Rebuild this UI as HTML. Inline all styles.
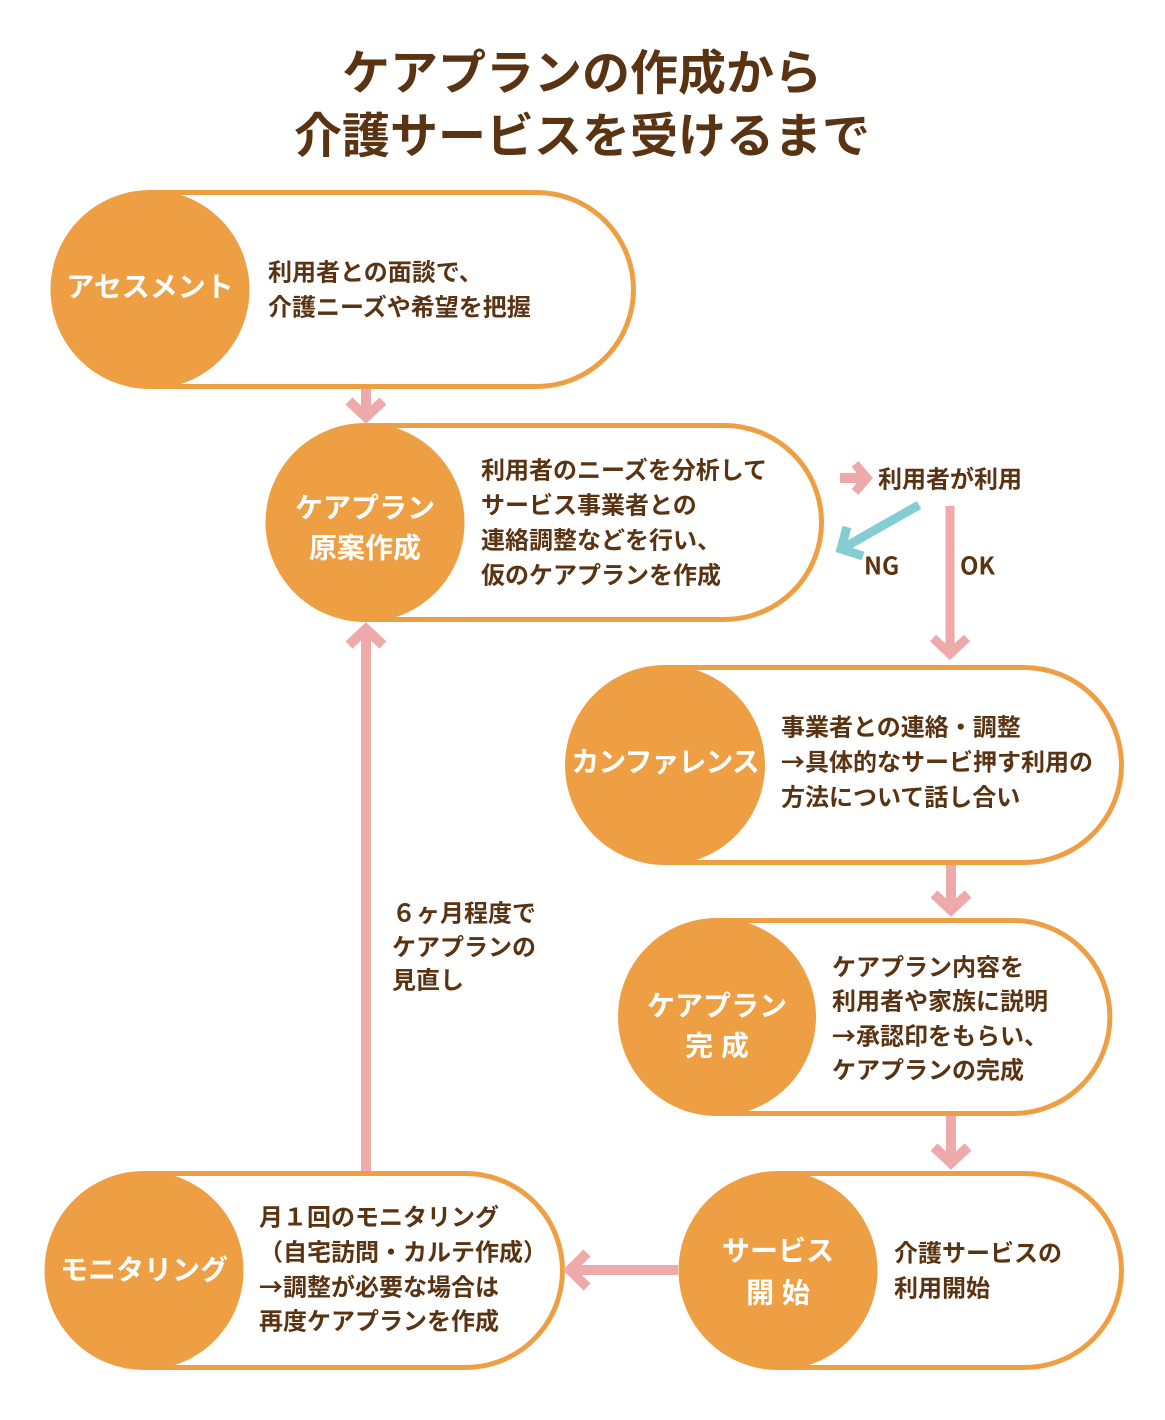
<!DOCTYPE html>
<html lang="ja">
<head>
<meta charset="utf-8">
<style>
  html, body { margin: 0; padding: 0; background: #ffffff; }
  body { width: 1165px; height: 1420px; overflow: hidden; }
  svg { display: block; }
  text { font-family: "Liberation Sans", "Noto Sans CJK JP", sans-serif; font-weight: bold; }
  .t { fill: #5a3312; font-size: 48px; }
  .d { fill: #5a3312; font-size: 24px; font-family: "Noto Sans CJK JP", "Liberation Sans", sans-serif; }
  .c { fill: #ffffff; font-size: 28px; }
  .s { fill: #5a3312; font-size: 24px; font-family: "Noto Sans CJK JP", "Liberation Sans", sans-serif; }
</style>
</head>
<body>
<svg width="1165" height="1420" viewBox="0 0 1165 1420" xmlns="http://www.w3.org/2000/svg">
  <rect x="0" y="0" width="1165" height="1420" fill="#ffffff"/>

  <!-- Title -->
  <text class="t" x="582" y="74" text-anchor="middle" dominant-baseline="central">ケアプランの作成から</text>
  <text class="t" x="582" y="137" text-anchor="middle" dominant-baseline="central">介護サービスを受けるまで</text>

  <!-- Pill outlines -->
  <g fill="#ffffff" stroke="#ef9f43" stroke-width="5">
    <path d="M150,192.5 H536.5 A97 97 0 0 1 536.5,386.5 H150 Z"/>
    <path d="M365,425.5 H724.5 A97 97 0 0 1 724.5,619.5 H365 Z"/>
    <path d="M665,667.5 H1024 A97.5 97.5 0 0 1 1024,862.5 H665 Z"/>
    <path d="M717,920.5 H1013.5 A96.5 96.5 0 0 1 1013.5,1113.5 H717 Z"/>
    <path d="M778,1173.5 H1024.5 A97 97 0 0 1 1024.5,1367.5 H778 Z"/>
    <path d="M144,1173.5 H465.5 A97 97 0 0 1 465.5,1367.5 H144 Z"/>
  </g>

  <!-- Circles -->
  <g fill="#ef9f43">
    <circle cx="150" cy="289.5" r="99.5"/>
    <circle cx="365" cy="522.5" r="99.5"/>
    <circle cx="665" cy="765" r="100"/>
    <circle cx="717" cy="1017" r="99"/>
    <circle cx="778" cy="1270.5" r="99.5"/>
    <circle cx="144" cy="1270.5" r="99.5"/>
  </g>

  <!-- Circle labels -->
  <text class="c" x="150" y="287" text-anchor="middle" dominant-baseline="central">アセスメント</text>
  <text class="c" x="365" y="508" text-anchor="middle" dominant-baseline="central">ケアプラン</text>
  <text class="c" x="365" y="548" text-anchor="middle" dominant-baseline="central">原案作成</text>
  <text class="c" x="665" y="762" text-anchor="middle" dominant-baseline="central" letter-spacing="-1">カンファレンス</text>
  <text class="c" x="717" y="1006" text-anchor="middle" dominant-baseline="central">ケアプラン</text>
  <text class="c" x="717" y="1046" text-anchor="middle" dominant-baseline="central">完 成</text>
  <text class="c" x="778" y="1251" text-anchor="middle" dominant-baseline="central">サービス</text>
  <text class="c" x="778" y="1293" text-anchor="middle" dominant-baseline="central">開 始</text>
  <text class="c" x="144" y="1270" text-anchor="middle" dominant-baseline="central">モニタリング</text>

  <!-- Descriptions -->
  <text class="d" x="268" y="270" dominant-baseline="central">利用者との面談で、</text>
  <text class="d" x="268" y="305" dominant-baseline="central">介護ニーズや希望を把握</text>

  <text class="d" x="481" y="468" dominant-baseline="central">利用者のニーズを分析して</text>
  <text class="d" x="481" y="503" dominant-baseline="central">サービス事業者との</text>
  <text class="d" x="481" y="538" dominant-baseline="central">連絡調整などを行い、</text>
  <text class="d" x="481" y="573" dominant-baseline="central">仮のケアプランを作成</text>

  <text class="d" x="781" y="725" dominant-baseline="central">事業者との連絡・調整</text>
  <text class="d" x="781" y="760" dominant-baseline="central">→具体的なサービ押す利用の</text>
  <text class="d" x="781" y="795" dominant-baseline="central">方法について話し合い</text>

  <text class="d" x="832" y="965" dominant-baseline="central">ケアプラン内容を</text>
  <text class="d" x="832" y="999" dominant-baseline="central">利用者や家族に説明</text>
  <text class="d" x="832" y="1034" dominant-baseline="central">→承認印をもらい、</text>
  <text class="d" x="832" y="1068" dominant-baseline="central">ケアプランの完成</text>

  <text class="d" x="894" y="1251" dominant-baseline="central">介護サービスの</text>
  <text class="d" x="894" y="1286" dominant-baseline="central">利用開始</text>

  <text class="d" x="259" y="1215" dominant-baseline="central">月１回のモニタリング</text>
  <text class="d" x="259" y="1250" dominant-baseline="central">（自宅訪問・カルテ作成）</text>
  <text class="d" x="259" y="1285" dominant-baseline="central">→調整が必要な場合は</text>
  <text class="d" x="259" y="1319" dominant-baseline="central">再度ケアプランを作成</text>

  <!-- Pink arrows -->
  <g stroke="#eeaaaa" stroke-width="10" fill="none" stroke-linejoin="miter" stroke-linecap="butt">
    <line x1="366" y1="389" x2="366" y2="414"/>
    <polyline points="349,401 366,417 383,401"/>
    <line x1="840" y1="478" x2="864" y2="478"/>
    <polyline points="855,464 867,478 855,492" stroke-width="9"/>
    <line x1="950" y1="506" x2="950" y2="652" stroke-width="9"/>
    <polyline points="933,638 950,654 967,638" stroke-width="9"/>
    <line x1="951" y1="865" x2="951" y2="908"/>
    <polyline points="934,894 951,910 968,894"/>
    <line x1="951" y1="1116" x2="951" y2="1161"/>
    <polyline points="934,1147 951,1163 968,1147"/>
    <line x1="678" y1="1270" x2="573" y2="1270"/>
    <polyline points="587,1253 570,1270 587,1287"/>
    <line x1="366" y1="1171" x2="366" y2="632"/>
    <polyline points="349,645 366,629 383,645"/>
  </g>

  <!-- Blue NG arrow -->
  <g stroke="#84cdd2" stroke-width="9" fill="none" stroke-linejoin="miter">
    <line x1="919" y1="505" x2="845" y2="547"/>
    <polyline points="847,527 841,549 863,556"/>
  </g>

  <!-- Branch labels -->
  <text class="s" x="878" y="477" dominant-baseline="central">利用者が利用</text>
  <text class="s" x="864" y="564" dominant-baseline="central">NG</text>
  <text class="s" x="960" y="564" dominant-baseline="central">OK</text>

  <!-- Return label -->
  <text class="s" x="392" y="911" dominant-baseline="central">６ヶ月程度で</text>
  <text class="s" x="392" y="945" dominant-baseline="central">ケアプランの</text>
  <text class="s" x="392" y="978" dominant-baseline="central">見直し</text>
</svg>
</body>
</html>
